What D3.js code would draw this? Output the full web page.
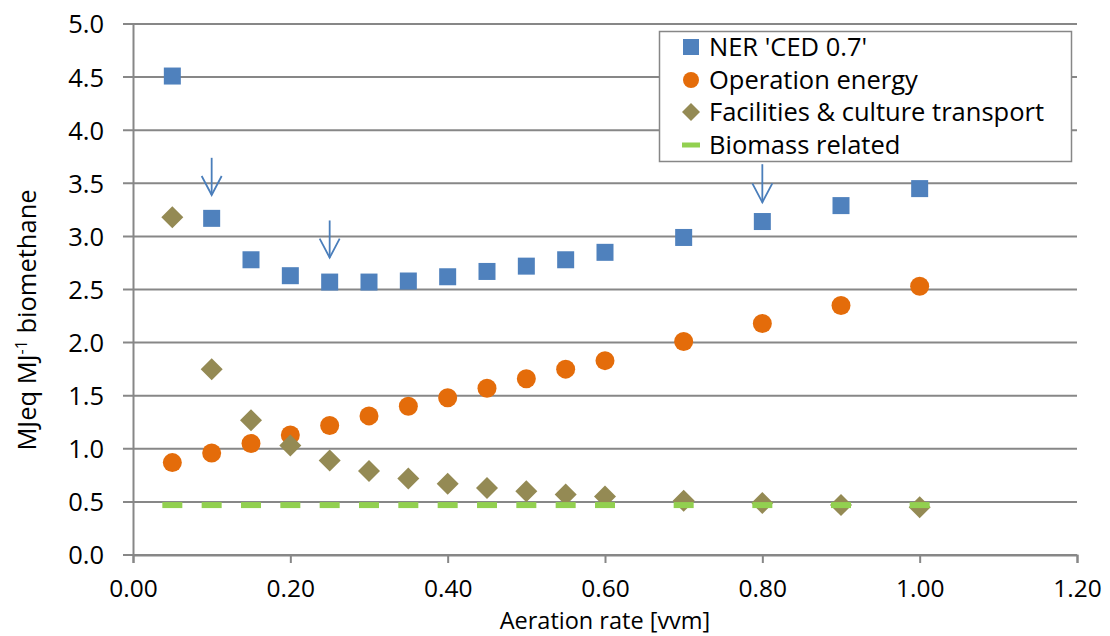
<!DOCTYPE html>
<html>
<head>
<meta charset="utf-8">
<script src="https://cdn.jsdelivr.net/npm/d3@7"></script>
<style>
  body { margin: 0; background: #fff; }
  svg text { font-family: "Open Sans", "Noto Sans", sans-serif; fill: #000; }
</style>
</head>
<body>
<script>
// aeration rates [vvm]
const rates = [0.05, 0.10, 0.15, 0.20, 0.25, 0.30, 0.35, 0.40, 0.45, 0.50, 0.55, 0.60, 0.70, 0.80, 0.90, 1.00];

const ner = [4.51, 3.17, 2.78, 2.63, 2.57, 2.57, 2.58, 2.62, 2.67, 2.72, 2.78, 2.85, 2.99, 3.14, 3.29, 3.45];
const operation = [0.87, 0.96, 1.05, 1.13, 1.22, 1.31, 1.40, 1.48, 1.57, 1.66, 1.75, 1.83, 2.01, 2.18, 2.35, 2.53];
const facilities = [3.18, 1.75, 1.27, 1.03, 0.89, 0.79, 0.72, 0.67, 0.63, 0.60, 0.57, 0.55, 0.51, 0.49, 0.47, 0.45];
const biomass = [0.47, 0.47, 0.47, 0.47, 0.47, 0.47, 0.47, 0.47, 0.47, 0.47, 0.47, 0.47, 0.47, 0.47, 0.47, 0.47];

const seriesNames = ["NER 'CED 0.7'", "Operation energy", "Facilities & culture transport", "Biomass related"];

const xTicks = [0, 0.2, 0.4, 0.6, 0.8, 1.0, 1.2];
const yTicks = [0, 0.5, 1.0, 1.5, 2.0, 2.5, 3.0, 3.5, 4.0, 4.5, 5.0];

// arrows pointing at selected NER points
const arrowX = [0.10, 0.25, 0.80];
const arrowTop = [3.74, 3.15, 3.68];
const arrowBottom = [3.39, 2.80, 3.32];

const width = 1110, height = 636;
const margin = {left: 133, right: 33, top: 24, bottom: 81};

const svg = d3.select("body").append("svg")
    .attr("width", width)
    .attr("height", height);

const x = d3.scaleLinear().domain([0, 1.2]).range([margin.left, width - margin.right]);
const y = d3.scaleLinear().domain([0, 5]).range([height - margin.bottom, margin.top]);

const gridColor = "#878787";
const fontSize = "25.5px";

// horizontal gridlines
svg.append("g")
    .selectAll("line")
    .data(yTicks)
    .enter()
    .append("line")
    .attr("x1", margin.left - 10)
    .attr("x2", width - margin.right)
    .attr("y1", (d) => y(d))
    .attr("y2", (d) => y(d))
    .attr("stroke", gridColor)
    .attr("stroke-width", 2);

// y axis
const yAxis = d3.axisLeft(y).tickValues(yTicks).tickFormat(d3.format(".1f")).tickSize(0).tickPadding(29);
const gy = svg.append("g")
    .attr("transform", "translate(" + margin.left + ",0)")
    .call(yAxis);
gy.select(".domain").attr("stroke", gridColor).attr("stroke-width", 2);
gy.selectAll("text").style("font-size", fontSize).attr("dy", "0.35em");

// x axis
const xAxis = d3.axisBottom(x).tickValues(xTicks).tickFormat(d3.format(".2f")).tickSize(8).tickPadding(0);
const gx = svg.append("g")
    .attr("transform", "translate(0," + (height - margin.bottom) + ")")
    .call(xAxis);
gx.select(".domain").attr("stroke", gridColor).attr("stroke-width", 2);
gx.selectAll(".tick line").attr("stroke", gridColor).attr("stroke-width", 2);
gx.selectAll("text").style("font-size", "24.5px").attr("dy", 0).attr("y", 42);

// axis titles
svg.append("text")
    .attr("x", x(0.6))
    .attr("y", 629)
    .attr("text-anchor", "middle")
    .style("font-size", "23.5px")
    .text("Aeration rate [vvm]");

const ylab = svg.append("text")
    .attr("transform", "translate(36,320) rotate(-90)")
    .attr("text-anchor", "middle")
    .style("font-size", fontSize);
ylab.append("tspan").text("MJeq MJ");
ylab.append("tspan").attr("dy", -9).style("font-size", "16px").text("-1");
ylab.append("tspan").attr("dy", 9).text(" biomethane");

const colors = ["#4f81bd", "#e46c0a", "#948a54", "#92d050"];

// NER squares
svg.append("g")
    .selectAll("rect")
    .data(rates)
    .enter()
    .append("rect")
    .attr("x", (d) => x(d) - 8.5)
    .attr("y", (d, i) => y(ner[i]) - 8.5)
    .attr("width", 17)
    .attr("height", 17)
    .attr("fill", colors[0]);

// operation circles
svg.append("g")
    .selectAll("circle")
    .data(rates)
    .enter()
    .append("circle")
    .attr("cx", (d) => x(d))
    .attr("cy", (d, i) => y(operation[i]))
    .attr("r", 9.5)
    .attr("fill", colors[1]);

// facilities diamonds
svg.append("g")
    .selectAll("path")
    .data(rates)
    .enter()
    .append("path")
    .attr("d", "M0,-11L11,0L0,11L-11,0Z")
    .attr("transform", (d, i) => "translate(" + x(d) + "," + y(facilities[i]) + ")")
    .attr("fill", colors[2]);

// biomass dashes
svg.append("g")
    .selectAll("rect")
    .data(rates)
    .enter()
    .append("rect")
    .attr("x", (d) => x(d) - 10)
    .attr("y", (d, i) => y(biomass[i]) - 3)
    .attr("width", 20)
    .attr("height", 6)
    .attr("fill", colors[3]);

// arrows
const arrows = svg.append("g")
    .attr("stroke", "#4a7ebb")
    .attr("stroke-width", 1.8)
    .attr("fill", "none");
arrowX.forEach(function(ax, i) {
    const px = x(ax), t = y(arrowTop[i]), b = y(arrowBottom[i]);
    arrows.append("line").attr("x1", px).attr("x2", px).attr("y1", t).attr("y2", b);
    arrows.append("path").attr("d", "M" + (px - 10) + "," + (b - 19) + "L" + px + "," + b + "L" + (px + 10) + "," + (b - 19));
});

// legend
const legend = svg.append("g");
legend.append("rect")
    .attr("x", 659.5)
    .attr("y", 31.5)
    .attr("width", 412)
    .attr("height", 130)
    .attr("fill", "#fff")
    .attr("stroke", gridColor)
    .attr("stroke-width", 1.5);

const rowY = [47, 80, 112, 145];
seriesNames.forEach(function(name, i) {
    const cx = 691, cy = rowY[i];
    if (i === 0) {
        legend.append("rect").attr("x", cx - 8).attr("y", cy - 8).attr("width", 16).attr("height", 16).attr("fill", colors[0]);
    } else if (i === 1) {
        legend.append("circle").attr("cx", cx).attr("cy", cy).attr("r", 8).attr("fill", colors[1]);
    } else if (i === 2) {
        legend.append("path").attr("d", "M0,-9L9,0L0,9L-9,0Z").attr("transform", "translate(" + cx + "," + cy + ")").attr("fill", colors[2]);
    } else {
        legend.append("rect").attr("x", cx - 9).attr("y", cy - 2.5).attr("width", 18).attr("height", 5).attr("fill", colors[3]);
    }
    legend.append("text")
        .attr("x", 709)
        .attr("y", cy)
        .attr("dy", "0.35em")
        .style("font-size", fontSize)
        .text(name);
});
</script>
</body>
</html>
